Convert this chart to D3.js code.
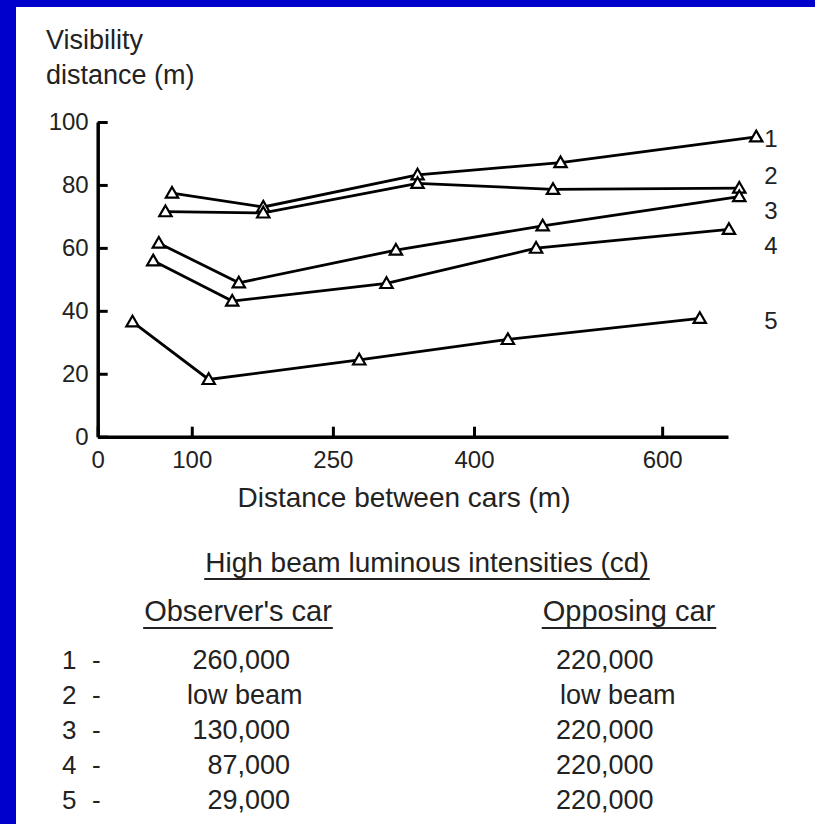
<!DOCTYPE html>
<html>
<head>
<meta charset="utf-8">
<script src="https://cdn.jsdelivr.net/npm/d3@7"></script>
<style>
  body { margin: 0; background: #0000cc; }
  svg { display: block; }
  text { font-family: "Liberation Sans", Arial, sans-serif; fill: #222; }
</style>
</head>
<body>
<div id="chart"></div>
<script>
// distance between cars (m) for each series
var dist1 = [79, 176, 340, 492, 700];
var dist2 = [72, 176, 340, 484, 682];
var dist3 = [65, 150, 317, 473, 682];
var dist4 = [59, 143, 307, 466, 671];
var dist5 = [37, 118, 278, 436, 640];

// visibility distance (m)
var vis1 = [77.4, 73.0, 83.2, 87.1, 95.3];
var vis2 = [71.5, 71.1, 80.5, 78.6, 79.0];
var vis3 = [61.5, 48.9, 59.3, 67.0, 76.3];
var vis4 = [55.9, 43.1, 48.7, 59.9, 65.9];
var vis5 = [36.5, 18.2, 24.4, 30.9, 37.6];

var seriesNames = ["1", "2", "3", "4", "5"];
var xTicks = [0, 100, 250, 400, 600];
var yTicks = [0, 20, 40, 60, 80, 100];

var observerCar = ["260,000", "low beam", "130,000", "87,000", "29,000"];
var opposingCar = ["220,000", "low beam", "220,000", "220,000", "220,000"];

var W = 815, H = 824;

var svg = d3.select("#chart").append("svg")
  .attr("width", W)
  .attr("height", H);

// blue frame only shows on top and left
svg.append("rect")
  .attr("x", 16).attr("y", 7)
  .attr("width", W - 16).attr("height", H - 7)
  .style("fill", "#fff");

var x = d3.scaleLinear().domain([0, 670]).range([97.7, 728]);
var y = d3.scaleLinear().domain([0, 100]).range([436.7, 122]);

var series = [
  { name: seriesNames[0], xs: dist1, ys: vis1 },
  { name: seriesNames[1], xs: dist2, ys: vis2 },
  { name: seriesNames[2], xs: dist3, ys: vis3 },
  { name: seriesNames[3], xs: dist4, ys: vis4 },
  { name: seriesNames[4], xs: dist5, ys: vis5 }
].map(function (s) {
  return {
    name: s.name,
    values: s.xs.map(function (d, i) { return { x: d, y: s.ys[i] }; })
  };
});

// axes, ticks point inward
var yAxis = svg.append("g")
  .attr("transform", "translate(" + x(0) + ",0)")
  .call(d3.axisLeft(y).tickValues(yTicks).tickSizeInner(-10).tickSizeOuter(0).tickPadding(9));

var xAxis = svg.append("g")
  .attr("transform", "translate(0," + y(0) + ")")
  .call(d3.axisBottom(x).tickValues(xTicks).tickSizeInner(-10).tickSizeOuter(0).tickPadding(14));

[xAxis, yAxis].forEach(function (g) {
  g.select(".domain").style("stroke", "#000").style("stroke-width", 3.5);
  g.selectAll(".tick line").style("stroke", "#000").style("stroke-width", 3);
  g.selectAll(".tick text").style("font-size", "24px").style("fill", "#222")
    .style("font-family", "Liberation Sans, Arial, sans-serif");
});

// lines
var line = d3.line()
  .x(function (d) { return x(d.x); })
  .y(function (d) { return y(d.y); });

svg.selectAll(".series")
  .data(series)
  .enter()
  .append("path")
  .attr("class", "series")
  .attr("d", function (d) { return line(d.values); })
  .style("fill", "none")
  .style("stroke", "#000")
  .style("stroke-width", 2.8);

// open triangle markers
var tri = d3.symbol().type(d3.symbolTriangle).size(66);
series.forEach(function (s) {
  svg.selectAll(null)
    .data(s.values)
    .enter()
    .append("path")
    .attr("d", tri)
    .attr("transform", function (d) { return "translate(" + x(d.x) + "," + (y(d.y) + 1) + ")"; })
    .style("fill", "#fff")
    .style("stroke", "#000")
    .style("stroke-width", 2.2);
});

// series numbers on the right
var labelY = [138, 175, 210, 245, 320];
svg.selectAll(".snum")
  .data(seriesNames)
  .enter()
  .append("text")
  .attr("class", "snum")
  .attr("x", 771)
  .attr("y", function (d, i) { return labelY[i] + 9; })
  .attr("text-anchor", "middle")
  .style("font-size", "24px")
  .text(function (d) { return d; });

// axis titles
svg.append("text").attr("x", 46).attr("y", 49).style("font-size", "27px").text("Visibility");
svg.append("text").attr("x", 46).attr("y", 84).style("font-size", "27px").text("distance (m)");
svg.append("text").attr("x", 404).attr("y", 507).attr("text-anchor", "middle")
  .style("font-size", "28px").text("Distance between cars (m)");

// legend table
function underlined(tx, ty, str, size) {
  var t = svg.append("text").attr("x", tx).attr("y", ty).attr("text-anchor", "middle")
    .style("font-size", size + "px").text(str);
  var w = t.node().getComputedTextLength();
  svg.append("line")
    .attr("x1", tx - w / 2 - 1).attr("x2", tx + w / 2 + 1)
    .attr("y1", ty + 7).attr("y2", ty + 7)
    .style("stroke", "#222").style("stroke-width", 2.2);
}
underlined(427, 572, "High beam luminous intensities (cd)", 28);
underlined(238, 621, "Observer's car", 29);
underlined(629, 621, "Opposing car", 29);

var rowY = d3.range(5).map(function (i) { return 669 + i * 35; });

svg.selectAll(".rnum")
  .data(seriesNames)
  .enter()
  .append("text")
  .attr("x", 62)
  .attr("y", function (d, i) { return rowY[i]; })
  .style("font-size", "26px")
  .text(function (d) { return d; });

svg.selectAll(".rdash")
  .data(seriesNames)
  .enter()
  .append("text")
  .attr("x", 92)
  .attr("y", function (d, i) { return rowY[i]; })
  .style("font-size", "26px")
  .text("-");

svg.selectAll(".obs")
  .data(observerCar)
  .enter()
  .append("text")
  .attr("x", function (d) { return d === "low beam" ? 187 : 290; })
  .attr("y", function (d, i) { return rowY[i]; })
  .attr("text-anchor", function (d) { return d === "low beam" ? "start" : "end"; })
  .style("font-size", "27px")
  .text(function (d) { return d; });

svg.selectAll(".opp")
  .data(opposingCar)
  .enter()
  .append("text")
  .attr("x", function (d) { return d === "low beam" ? 560 : 556; })
  .attr("y", function (d, i) { return rowY[i]; })
  .style("font-size", "27px")
  .text(function (d) { return d; });
</script>
</body>
</html>
